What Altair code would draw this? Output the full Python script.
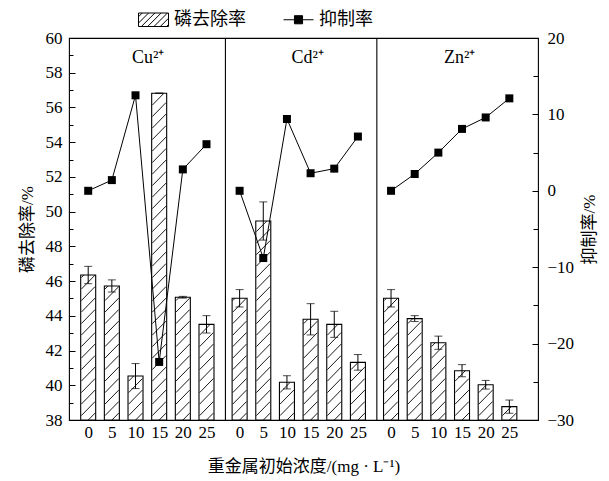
import altair as alt
import pandas as pd

# ---------------- data ----------------
metals = ["Cu²⁺", "Cd²⁺", "Zn²⁺"]
concentrations = [0, 5, 10, 15, 20, 25]

removal_cu = [46.35, 45.72, 40.53, 56.82, 45.07, 43.51]
removal_cd = [45.01, 49.46, 40.17, 43.80, 43.51, 41.32]
removal_zn = [45.01, 43.84, 42.45, 40.84, 40.03, 38.77]

err_cu = [0.50, 0.35, 0.72, 0.00, 0.05, 0.50]
err_cd = [0.50, 1.10, 0.38, 0.90, 0.75, 0.45]
err_zn = [0.50, 0.17, 0.38, 0.35, 0.25, 0.38]

inhib_cu = [0.0, 1.4, 12.5, -22.4, 2.8, 6.1]
inhib_cd = [0.0, -8.8, 9.4, 2.3, 2.9, 7.1]
inhib_zn = [0.0, 2.2, 5.0, 8.1, 9.6, 12.1]

removal = [removal_cu, removal_cd, removal_zn]
errors = [err_cu, err_cd, err_zn]
inhib = [inhib_cu, inhib_cd, inhib_zn]

series_names = ["磷去除率", "抑制率"]

# layout of the shared x axis: each metal panel spans 32 units, bars start 3 units in
panel_span = 32
panel_start = 3
x_domain = [0, 97]
panel_breaks = [32, 64]
label_x = [15.7, 49.4, 81.5]
label_y = 58.85

yl_domain = [38, 60]
yr_domain = [-30, 20]
yl_major = list(range(38, 61, 2))
yl_minor = list(range(39, 60, 2))
yr_major = list(range(-30, 21, 10))
yr_minor = list(range(-25, 20, 10))

W, H = 469, 382
BAR = 15
NUM_FONT = "'Liberation Serif', 'Times New Roman', serif"
FONT = "'Liberation Serif', 'Noto Sans CJK SC', serif"

rows = []
for p, m in enumerate(metals):
    for i, c in enumerate(concentrations):
        v = removal[p][i]
        e = errors[p][i]
        rows.append(dict(metal=m, conc=c, x=p * panel_span + panel_start + c,
                         removal=v, lo=v - e, hi=v + e, inhib=inhib[p][i],
                         base=yl_domain[0]))
df = pd.DataFrame(rows)
x_ticks = [int(v) for v in df["x"]]

# hatch segments computed from the bar values through the scale ratios
px_x = W / (x_domain[1] - x_domain[0])
px_y = H / (yl_domain[1] - yl_domain[0])
half = BAR / 2 - 0.5
pitch = 11.5
hatch = []
for xc, val in zip(df["x"], df["removal"]):
    hpx = (val - yl_domain[0]) * px_y
    c = -2 * half + pitch * 0.6
    while c < hpx:
        u0 = max(-half, -half - c)
        u1 = min(half, hpx - c - half)
        if u1 > u0:
            hatch.append(dict(x=xc + u0 / px_x, x2=xc + u1 / px_x,
                              y=yl_domain[0] + (u0 + half + c) / px_y,
                              y2=yl_domain[0] + (u1 + half + c) / px_y))
        c += pitch
hdf = pd.DataFrame(hatch)


def hatch_symbol():
    hw, hh = 1.0, 0.45
    parts = [f"M{-hw},{-hh}H{hw}V{hh}H{-hw}Z"]
    b = -hw - 2 * hh + 0.25
    while b < hw:
        x0 = max(-hw, b)
        x1 = min(hw, b + 2 * hh)
        if x1 > x0:
            parts.append(f"M{x0:.3f},{hh - (x0 - b):.3f}L{x1:.3f},{hh - (x1 - b):.3f}")
        b += 0.42
    return "".join(parts)


line_symbol = "M-1,0H-0.27M0.27,0H1M-0.27,-0.27H0.27V0.27H-0.27Z"

xs = alt.Scale(domain=x_domain, nice=False, zero=False)
yls = alt.Scale(domain=yl_domain, nice=False, zero=False)
yrs = alt.Scale(domain=yr_domain, nice=False, zero=False)

x_axis = alt.Axis(values=x_ticks, labelExpr=f"format((datum.value - {panel_start}) % {panel_span}, 'd')",
                  tickSize=5, offset=-5, domain=False, grid=False, labelPadding=4,
                  labelFont=NUM_FONT, labelFontSize=17, labelColor="black", tickColor="black",
                  labelFlush=False, labelOverlap=False,
                  title="重金属初始浓度/(mg · L⁻¹)", titleFont=FONT, titleFontSize=17,
                  titleFontWeight="normal", titleColor="black", titlePadding=18)


def X(field):
    return alt.X(field, type="quantitative", scale=xs, axis=x_axis)


yl_axis = alt.Axis(orient="left", values=yl_major, tickSize=6, offset=-6, domain=False, grid=False,
                   labelPadding=7, labelFont=NUM_FONT, labelFontSize=17, labelColor="black",
                   tickColor="black", title="磷去除率/%", titleFont=FONT, titleFontSize=17,
                   titleFontWeight="normal", titleColor="black", titlePadding=9)
yl_minor_axis = alt.Axis(orient="left", values=yl_minor, tickSize=4, offset=-4, domain=False,
                         grid=False, labels=False, tickColor="black", title=None)
yr_axis = alt.Axis(orient="right", values=yr_major, tickSize=6, offset=-6, domain=False, grid=False,
                   labelPadding=9, labelFont=NUM_FONT, labelFontSize=17, labelColor="black",
                   tickColor="black", title="抑制率/%", titleFont=FONT, titleFontSize=17,
                   titleFontWeight="normal", titleColor="black", titlePadding=8,
                   titleAngle=270, titleBaseline="top")
yr_minor_axis = alt.Axis(orient="right", values=yr_minor, tickSize=5, offset=-5, domain=False,
                         grid=False, labels=False, tickColor="black", title=None)

base = alt.Chart(df)

bars = base.mark_bar(size=BAR, fill="white", stroke="black", strokeWidth=1.1).encode(
    x=X("x"),
    y=alt.Y("removal:Q", scale=yls, axis=yl_axis),
    y2=alt.Y2("base:Q"),
)

hatch_layer = alt.Chart(hdf).mark_rule(color="black", strokeWidth=0.9).encode(
    x=X("x"),
    x2="x2:Q",
    y=alt.Y("y:Q", scale=yls, axis=yl_minor_axis),
    y2="y2:Q",
)

err_rule = base.mark_rule(color="black", strokeWidth=1).encode(
    x=X("x"),
    y=alt.Y("lo:Q", scale=yls, axis=None),
    y2="hi:Q",
)
cap_hi = base.mark_tick(orient="horizontal", size=8, thickness=1, color="black").encode(
    x=X("x"),
    y=alt.Y("hi:Q", scale=yls, axis=None),
)
cap_lo = base.mark_tick(orient="horizontal", size=8, thickness=1, color="black").encode(
    x=X("x"),
    y=alt.Y("lo:Q", scale=yls, axis=None),
)

line = base.mark_line(color="black", strokeWidth=1).encode(
    x=X("x"),
    y=alt.Y("inhib:Q", scale=yrs, axis=yr_axis),
    detail="metal:N",
)
points = base.mark_square(size=64, color="black", opacity=1).encode(
    x=X("x"),
    y=alt.Y("inhib:Q", scale=yrs, axis=yr_minor_axis),
)

ldf = pd.DataFrame({"metal": metals, "lx": label_x, "ly": [label_y] * 3})
labels = alt.Chart(ldf).mark_text(font=FONT, fontSize=18, color="black", baseline="middle").encode(
    x=X("lx"),
    y=alt.Y("ly:Q", scale=yls, axis=None),
    text="metal:N",
)

sdf = pd.DataFrame({"bx": panel_breaks})
separators = alt.Chart(sdf).mark_rule(color="black", strokeWidth=1.1).encode(
    x=X("bx"),
    y=alt.value(0),
    y2=alt.value(H),
)

legend = alt.Legend(orient="none", legendX=69, legendY=-34, direction="horizontal",
                    title=None, symbolSize=900, labelFont=FONT, labelFontSize=18,
                    labelColor="black", labelOffset=5, columnPadding=35, padding=0,
                    symbolStrokeWidth=1, symbolOpacity=1)

legdf = pd.DataFrame({"series": series_names})
legend_layer = alt.Chart(legdf).mark_point(filled=True, clip=True, opacity=1, strokeWidth=1).encode(
    x=alt.value(-200),
    y=alt.value(-200),
    shape=alt.Shape("series:N", sort=series_names,
                    scale=alt.Scale(domain=series_names, range=[hatch_symbol(), line_symbol]),
                    legend=legend),
    fill=alt.Fill("series:N", sort=series_names,
                  scale=alt.Scale(domain=series_names, range=["white", "black"]),
                  legend=legend),
    stroke=alt.Stroke("series:N", sort=series_names,
                      scale=alt.Scale(domain=series_names, range=["black", "black"]),
                      legend=legend),
)

chart = alt.layer(
    bars, hatch_layer, err_rule, cap_hi, cap_lo, line, points, labels, separators, legend_layer
).resolve_scale(y="independent").resolve_axis(y="independent").properties(
    width=W, height=H,
    padding={"left": 61, "top": 30, "right": 62, "bottom": 60},
    autosize=alt.AutoSizeParams(type="none"),
    background="white",
).configure_view(stroke="black", strokeWidth=1.1)

chart.save("out.html", embed_options={"renderer": "svg", "actions": False})
